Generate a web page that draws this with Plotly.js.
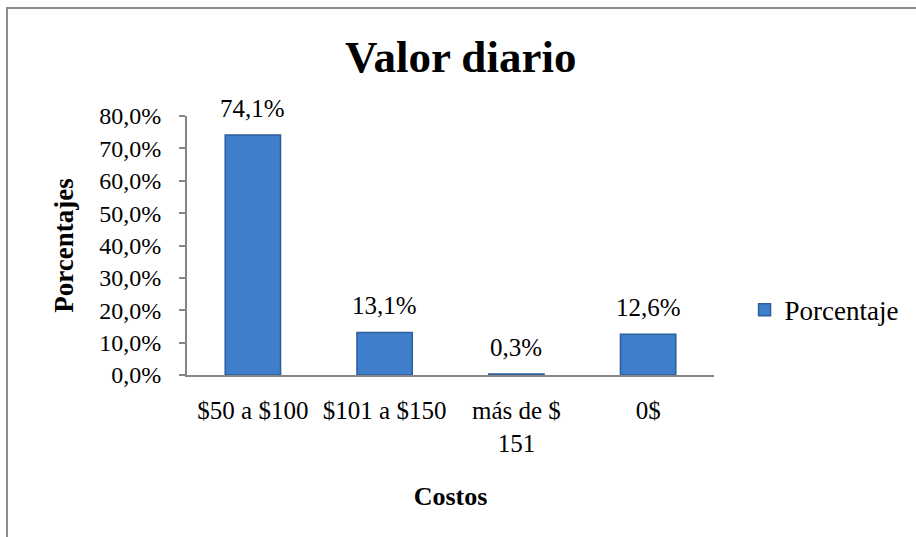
<!DOCTYPE html>
<html>
<head>
<meta charset="utf-8">
<script src="https://cdn.plot.ly/plotly-3.0.1.min.js"></script>
<style>
  html, body { margin: 0; padding: 0; background: #ffffff; overflow: hidden; }
  #frame { position: absolute; left: 6px; top: 7px; width: 1000px; height: 1000px; border: 2px solid #8c8c8c; box-sizing: border-box; }
  #chart { position: absolute; left: 0; top: 0; width: 916px; height: 537px; }
</style>
</head>
<body>
<div id="frame"></div>
<div id="chart"></div>
<script>
const categories = ["$50 a $100", "$101 a $150", "más de $<br>151", "0$"];
const values = [74.1, 13.1, 0.3, 12.6];
const valueLabels = ["74,1%", "13,1%", "0,3%", "12,6%"];
const tickVals = [0, 10, 20, 30, 40, 50, 60, 70, 80];
const tickText = ["0,0%", "10,0%", "20,0%", "30,0%", "40,0%", "50,0%", "60,0%", "70,0%", "80,0%"];
const seriesName = "Porcentaje";

const serif = "Liberation Serif, Times New Roman, serif";

const trace = {
  type: "bar",
  x: categories,
  y: values,
  name: seriesName,
  marker: { color: "#3f7ecb", line: { color: "#2d5f9c", width: 1.5 } },
  hoverinfo: "skip"
};

const labelAnnotations = categories.map((c, i) => ({
  x: c, y: values[i], xref: "x", yref: "y",
  text: valueLabels[i], showarrow: false,
  yanchor: "middle", yshift: 27,
  font: { family: serif, size: 25, color: "#000000" }
}));

const layout = {
  width: 916,
  height: 537,
  margin: { l: 187, r: 192, t: 116, b: 162 },
  paper_bgcolor: "rgba(0,0,0,0)",
  plot_bgcolor: "rgba(0,0,0,0)",
  bargap: 0.58,
  showlegend: true,
  font: { family: serif, size: 24, color: "#000000" },
  title: {
    text: "<b>Valor diario</b>",
    font: { family: serif, size: 45, color: "#000000" },
    x: 0.503, xanchor: "center",
    y: 0.896, yanchor: "middle"
  },
  legend: {
    x: 1.058, xanchor: "left",
    y: 0.25, yanchor: "middle",
    font: { family: serif, size: 27, color: "#000000" },
    itemwidth: 30
  },
  annotations: labelAnnotations,
  xaxis: {
    type: "category",
    showline: true, linecolor: "#868686", linewidth: 2,
    ticks: "", showgrid: false, zeroline: false,
    ticklabelstandoff: 12,
    tickfont: { family: serif, size: 25, color: "#000000" },
    title: { text: "<b>Costos</b>", font: { family: serif, size: 26, color: "#000000" }, standoff: 31 },
    automargin: false
  },
  yaxis: {
    range: [0, 80],
    tickvals: tickVals, ticktext: tickText,
    showline: true, linecolor: "#868686", linewidth: 2,
    ticks: "outside", ticklen: 6, tickwidth: 2, tickcolor: "#868686",
    ticklabelstandoff: 13,
    showgrid: false, zeroline: false,
    tickfont: { family: serif, size: 24, color: "#000000" },
    title: { text: "<b>Porcentajes</b>", font: { family: serif, size: 27, color: "#000000" }, standoff: 18 },
    automargin: false
  }
};

Plotly.newPlot("chart", [trace], layout, { displayModeBar: false, staticPlot: true });
</script>
</body>
</html>
